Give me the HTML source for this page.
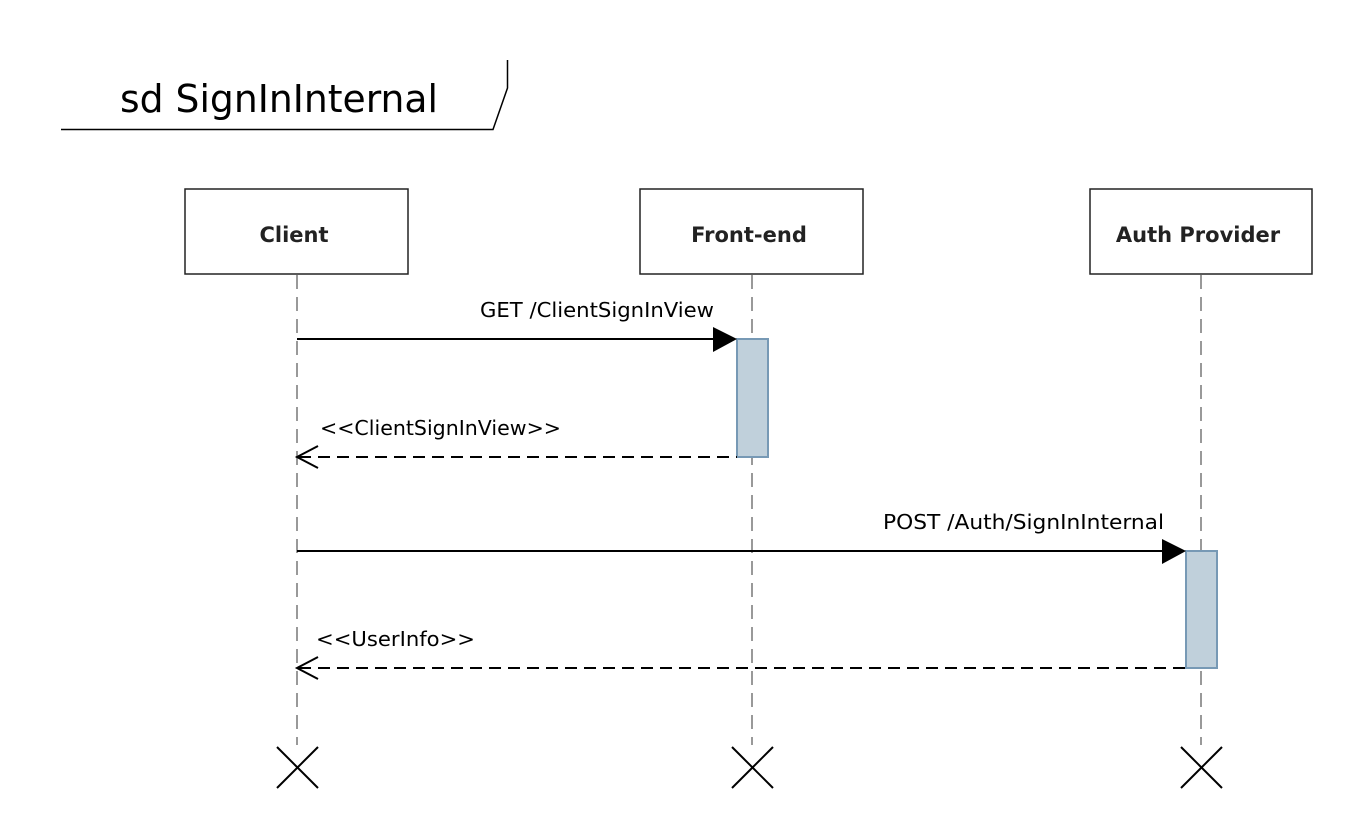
<!DOCTYPE html>
<html><head><style>body{margin:0;background:#fff}svg{display:block}</style></head><body>
<svg width="1367" height="833" xmlns="http://www.w3.org/2000/svg" font-family="'DejaVu Sans','Liberation Sans',sans-serif">
<rect width="1367" height="833" fill="#fff"/>
<polyline points="61,129.5 493,129.5 507.5,88 507.5,60" fill="none" stroke="#000" stroke-width="1.5"/>
<text x="120" y="112" font-size="38" fill="#000" textLength="318" lengthAdjust="spacingAndGlyphs">sd SignInInternal</text>
<g stroke="#999" stroke-width="2" stroke-dasharray="14,8">
<line x1="297" y1="275" x2="297" y2="745"/>
<line x1="752" y1="275" x2="752" y2="745"/>
<line x1="1201" y1="275" x2="1201" y2="745"/>
</g>
<g fill="#fff" stroke="#222" stroke-width="1.5">
<rect x="185" y="189" width="223" height="85"/>
<rect x="640" y="189" width="223" height="85"/>
<rect x="1090" y="189" width="222" height="85"/>
</g>
<g font-size="21" font-weight="bold" fill="#222" text-anchor="middle">
<text x="294" y="242">Client</text>
<text x="749" y="242">Front-end</text>
<text x="1198" y="242">Auth Provider</text>
</g>
<g fill="#c0d0db" stroke="#7799b5" stroke-width="2">
<rect x="737" y="339" width="31" height="118"/>
<rect x="1186" y="551" width="31" height="117"/>
</g>
<g stroke="#000" stroke-width="2">
<line x1="297" y1="339" x2="720" y2="339"/>
<line x1="297" y1="551" x2="1170" y2="551"/>
<line x1="299" y1="457" x2="737" y2="457" stroke-dasharray="12,7"/>
<line x1="299" y1="668" x2="1186" y2="668" stroke-dasharray="12,7"/>
<polyline points="318,446 297,457 318,468" fill="none"/>
<polyline points="318,657 297,668 318,679" fill="none"/>
<line x1="277" y1="747" x2="318" y2="788"/><line x1="318" y1="747" x2="277" y2="788"/>
<line x1="732" y1="747" x2="773" y2="788"/><line x1="773" y1="747" x2="732" y2="788"/>
<line x1="1181" y1="747" x2="1222" y2="788"/><line x1="1222" y1="747" x2="1181" y2="788"/>
</g>
<polygon points="713,327 737,339 713,352" fill="#000"/>
<polygon points="1162,539 1186,551 1162,564" fill="#000"/>
<g font-size="20" fill="#000">
<text x="480" y="317" textLength="234" lengthAdjust="spacingAndGlyphs">GET /ClientSignInView</text>
<text x="320" y="435" textLength="241" lengthAdjust="spacingAndGlyphs">&lt;&lt;ClientSignInView&gt;&gt;</text>
<text x="883" y="529" textLength="281" lengthAdjust="spacingAndGlyphs">POST /Auth/SignInInternal</text>
<text x="316" y="646" textLength="159" lengthAdjust="spacingAndGlyphs">&lt;&lt;UserInfo&gt;&gt;</text>
</g>
</svg>
</body></html>
